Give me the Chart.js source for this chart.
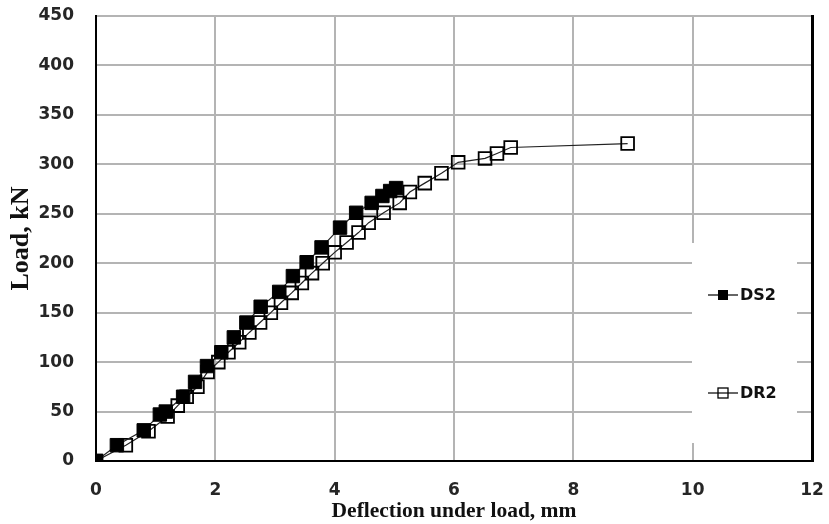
<!DOCTYPE html>
<html>
<head>
<meta charset="utf-8">
<script src="https://cdn.jsdelivr.net/npm/chart.js@4.4.1/dist/chart.umd.min.js"></script>
<style>
  html, body { margin: 0; padding: 0; background: #ffffff; }
  #wrap { width: 829px; height: 524px; position: relative; }
</style>
</head>
<body>
<div id="wrap"><canvas id="c" width="829" height="524"></canvas></div>
<script>
// ---- data ----
const seriesNames = ['DS2', 'DR2'];
const ds2Deflection = [0, 0.35, 0.8, 1.07, 1.17, 1.46, 1.66, 1.86, 2.1, 2.31, 2.52, 2.76, 3.07, 3.3, 3.53, 3.78, 4.09, 4.36, 4.62, 4.8, 4.93, 5.03];
const ds2Load       = [0, 16, 31, 47, 50, 65, 80, 96, 110, 125, 140, 156, 171, 187, 201, 216, 236, 251, 261, 268, 273, 276];
const dr2Deflection = [0, 0.5, 0.88, 1.2, 1.37, 1.52, 1.7, 1.87, 2.05, 2.22, 2.4, 2.57, 2.75, 2.93, 3.1, 3.28, 3.45, 3.62, 3.8, 4.0, 4.2, 4.4, 4.57, 4.82, 5.09, 5.26, 5.51, 5.79, 6.07, 6.52, 6.72, 6.95, 8.91];
const dr2Load       = [0, 16, 30, 45, 56, 65, 75, 90, 100, 110, 120, 130, 140, 150, 160, 170, 180, 190, 200, 211, 221, 231, 241, 251, 261, 272, 281, 291, 302, 306, 311, 317, 321];
const xTicks = [0, 2, 4, 6, 8, 10, 12];
const yTicks = [0, 50, 100, 150, 200, 250, 300, 350, 400, 450];
const xTitle = 'Deflection under load, mm';
const yTitle = 'Load, kN';

const toPoints = (xs, ys) => xs.map((x, i) => ({ x: x, y: ys[i] }));

const tickFont = { family: 'DejaVu Sans', size: 17, weight: 'bold' };
const tickColor = '#262626';
const gridColor = '#b4b4b4';

const legendBox = {
  id: 'legendBox',
  beforeDatasetsDraw(chart) {
    const ctx = chart.ctx;
    const a = chart.chartArea;
    const bx = a.right - 120, by = a.top + 227, bw = 105, bh = 200;
    ctx.save();
    ctx.fillStyle = '#ffffff';
    ctx.fillRect(bx, by, bw, bh);
    ctx.restore();
  },
  afterDatasetsDraw(chart) {
    const ctx = chart.ctx;
    const a = chart.chartArea;
    const items = chart.data.datasets;
    const baseX = a.right - 104;
    const ys = [a.top + 279, a.top + 377];
    ctx.save();
    items.forEach((ds, i) => {
      const y = ys[i];
      ctx.strokeStyle = '#000';
      ctx.lineWidth = 1.2;
      ctx.beginPath();
      ctx.moveTo(baseX, y);
      ctx.lineTo(baseX + 30, y);
      ctx.stroke();
      const s = 10;
      if (i === 0) {
        ctx.fillStyle = '#000';
        ctx.fillRect(baseX + 15 - s / 2, y - s / 2, s, s);
      } else {
        ctx.lineWidth = 1.3;
        ctx.strokeRect(baseX + 15 - s / 2, y - s / 2, s, s);
      }
      ctx.fillStyle = '#111';
      ctx.font = 'bold 16px "DejaVu Sans"';
      ctx.textBaseline = 'middle';
      ctx.textAlign = 'left';
      ctx.fillText(ds.label, baseX + 32, y + 1);
    });
    ctx.restore();
  }
};

new Chart(document.getElementById('c'), {
  type: 'scatter',
  data: {
    datasets: [
      {
        label: seriesNames[0],
        data: toPoints(ds2Deflection, ds2Load),
        showLine: true,
        borderColor: '#222',
        borderWidth: 1.2,
        pointStyle: 'rect',
        pointRadius: 9.5,
        pointBackgroundColor: '#000',
        pointBorderColor: '#000',
        pointBorderWidth: 1,
        tension: 0
      },
      {
        label: seriesNames[1],
        data: toPoints(dr2Deflection, dr2Load),
        showLine: true,
        borderColor: '#222',
        borderWidth: 1.2,
        pointStyle: 'rect',
        pointRadius: 9,
        pointBackgroundColor: 'rgba(255,255,255,0)',
        pointBorderColor: '#000',
        pointBorderWidth: 1.8,
        tension: 0
      }
    ]
  },
  options: {
    responsive: false,
    animation: false,
    layout: { padding: { left: 0, right: 14, top: 16, bottom: 0 } },
    plugins: {
      legend: { display: false },
      tooltip: { enabled: false }
    },
    scales: {
      x: {
        type: 'linear',
        min: 0, max: 12,
        afterBuildTicks: (s) => { s.ticks = xTicks.map(v => ({ value: v })); },
        afterFit: (s) => { s.height = 63; s.paddingLeft = 0; s.paddingRight = 0; },
        ticks: { font: tickFont, color: tickColor, padding: 19 },
        grid: { color: gridColor, lineWidth: 2, drawTicks: false },
        border: { color: '#000', width: 2 },
        title: {
          display: true, text: xTitle, color: '#111',
          font: { family: 'Liberation Serif', size: 21.5, weight: 'bold' },
          padding: { top: 0, bottom: 0 }
        }
      },
      y: {
        type: 'linear',
        min: 0, max: 450,
        afterBuildTicks: (s) => { s.ticks = yTicks.map(v => ({ value: v })); },
        afterFit: (s) => { s.width = 96; s.paddingTop = 0; s.paddingBottom = 0; },
        ticks: { font: tickFont, color: tickColor, padding: 22 },
        grid: { color: gridColor, lineWidth: 2, drawTicks: false },
        border: { color: '#000', width: 2 },
        title: {
          display: true, text: yTitle, color: '#111',
          font: { family: 'Liberation Serif', size: 26, weight: 'bold' },
          padding: { top: 6, bottom: 0 }
        }
      },
      yRight: {
        type: 'linear',
        position: 'right',
        min: 0, max: 450,
        afterFit: (s) => { s.width = 3; s.paddingTop = 0; s.paddingBottom = 0; },
        ticks: { display: false },
        grid: { drawOnChartArea: false, drawTicks: false },
        border: { color: '#000', width: 3 }
      }
    }
  },
  plugins: [legendBox]
});
</script>
</body>
</html>
